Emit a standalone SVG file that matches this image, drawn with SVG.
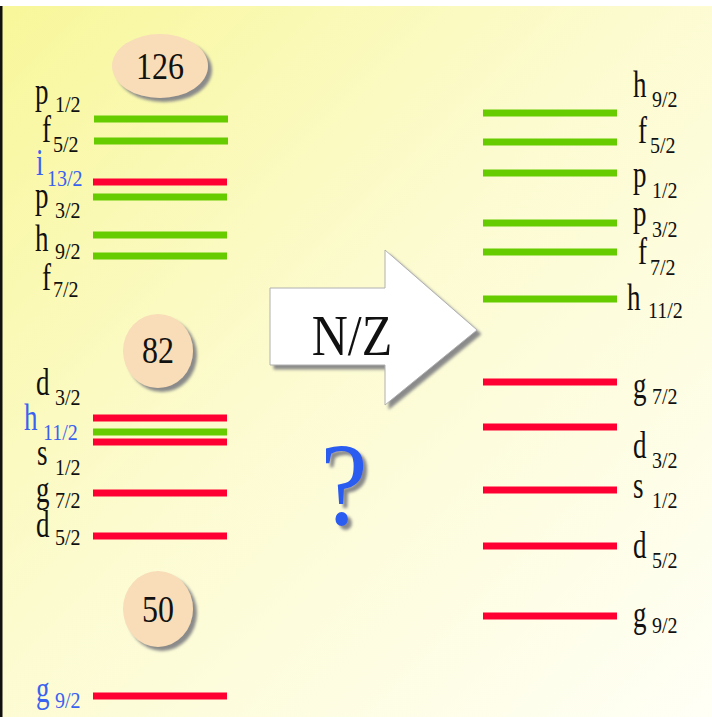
<svg xmlns="http://www.w3.org/2000/svg" width="712" height="717" viewBox="0 0 712 717">
<defs>
<linearGradient id="bg" x1="0" y1="0" x2="1" y2="1">
<stop offset="0" stop-color="#F8F79A"/>
<stop offset="0.45" stop-color="#FCFBCF"/>
<stop offset="1" stop-color="#FFFFF6"/>
</linearGradient>
<filter id="sh" x="-20%" y="-20%" width="150%" height="150%">
<feGaussianBlur in="SourceAlpha" stdDeviation="1.5"/>
<feOffset dx="4" dy="4" result="b"/>
<feFlood flood-color="#8a8a8a"/>
<feComposite in2="b" operator="in"/>
<feMerge><feMergeNode/><feMergeNode in="SourceGraphic"/></feMerge>
</filter>
<style>
text{font-family:'Liberation Serif','DejaVu Serif','Times New Roman',Times,serif}
.g{stroke:#66CC00;stroke-width:7}
.r{stroke:#FF0033;stroke-width:7}
.m{font-size:27px;fill:#111}
.s{font-size:20px;fill:#111}
.b{fill:#3A62F0}
.n{font-size:32px;fill:#111;text-anchor:middle}
.c{fill:#F8DDB8}
</style>
</defs>
<rect x="0" y="0" width="712" height="717" fill="#fff"/>
<rect x="0" y="6" width="712" height="711" fill="url(#bg)"/>
<rect x="0" y="6" width="2.5" height="711" fill="#111"/>

<g id="magic-126">
<ellipse class="c" cx="160" cy="66" rx="48" ry="32" filter="url(#sh)"/>
<text class="n" transform="translate(160,79) scale(1,1.2)">126</text>
</g>
<g id="magic-82">
<ellipse class="c" cx="158" cy="351" rx="35" ry="37" filter="url(#sh)"/>
<text class="n" transform="translate(158,363) scale(1,1.2)">82</text>
</g>
<g id="magic-50">
<ellipse class="c" cx="158" cy="609" rx="35" ry="38" filter="url(#sh)"/>
<text class="n" transform="translate(158,622) scale(1,1.2)">50</text>
</g>

<g id="left-levels">
<line class="g" x1="94" y1="119" x2="228" y2="119"/>
<line class="g" x1="94" y1="141" x2="228" y2="141"/>
<line class="r" x1="93" y1="182" x2="227" y2="182"/>
<line class="g" x1="93" y1="197" x2="227" y2="197"/>
<line class="g" x1="93" y1="235" x2="227" y2="235"/>
<line class="g" x1="93" y1="256" x2="227" y2="256"/>
<line class="r" x1="93" y1="418" x2="227" y2="418"/>
<line class="g" x1="93" y1="432" x2="227" y2="432"/>
<line class="r" x1="93" y1="442" x2="227" y2="442"/>
<line class="r" x1="93" y1="493" x2="227" y2="493"/>
<line class="r" x1="93" y1="536" x2="227" y2="536"/>
<line class="r" x1="93" y1="696" x2="227" y2="696"/>
</g>

<g id="left-labels">
<text class="m" transform="translate(35,104) scale(1,1.38)">p</text><text class="s" transform="translate(55,112) scale(1,1.2)">1/2</text>
<text class="m" transform="translate(42,142) scale(1,1.38)">f</text><text class="s" transform="translate(53,152) scale(1,1.2)">5/2</text>
<text class="m b" transform="translate(36,175) scale(1,1.38)">i</text><text class="s b" transform="translate(47,186) scale(1,1.2)">13/2</text>
<text class="m" transform="translate(35,208) scale(1,1.38)">p</text><text class="s" transform="translate(55,218) scale(1,1.2)">3/2</text>
<text class="m" transform="translate(35,251) scale(1,1.38)">h</text><text class="s" transform="translate(55,259) scale(1,1.2)">9/2</text>
<text class="m" transform="translate(42,290) scale(1,1.38)">f</text><text class="s" transform="translate(53,297) scale(1,1.2)">7/2</text>
<text class="m" transform="translate(36,395) scale(1,1.38)">d</text><text class="s" transform="translate(55,405) scale(1,1.2)">3/2</text>
<text class="m b" transform="translate(24,430) scale(1,1.38)">h</text><text class="s b" transform="translate(43,440) scale(1,1.2)">11/2</text>
<text class="m" transform="translate(37,465) scale(1,1.38)">s</text><text class="s" transform="translate(55,475) scale(1,1.2)">1/2</text>
<text class="m" transform="translate(36,502) scale(1,1.38)">g</text><text class="s" transform="translate(55,508) scale(1,1.2)">7/2</text>
<text class="m" transform="translate(36,537) scale(1,1.38)">d</text><text class="s" transform="translate(55,545) scale(1,1.2)">5/2</text>
<text class="m b" transform="translate(36,702) scale(1,1.38)">g</text><text class="s b" transform="translate(55,708) scale(1,1.2)">9/2</text>
</g>

<g id="arrow-nz">
<path d="M270,288 H385 V250 L477,330 L385,405 V365 H270 Z" fill="#fff" stroke="#b0b0b0" stroke-width="1" filter="url(#sh)"/>
<text transform="translate(352,355) scale(1,1.15)" font-size="50" fill="#111" text-anchor="middle">N/Z</text>
</g>

<g id="question" filter="url(#sh)">
<text transform="translate(344,524) scale(1,1.12)" font-size="106" fill="#2A5CF0" text-anchor="middle">?</text>
</g>

<g id="right-levels">
<line class="g" x1="483" y1="113" x2="617" y2="113"/>
<line class="g" x1="483" y1="142" x2="617" y2="142"/>
<line class="g" x1="483" y1="173" x2="617" y2="173"/>
<line class="g" x1="483" y1="223" x2="617" y2="223"/>
<line class="g" x1="483" y1="252" x2="617" y2="252"/>
<line class="g" x1="483" y1="299" x2="617" y2="299"/>
<line class="r" x1="483" y1="382" x2="617" y2="382"/>
<line class="r" x1="483" y1="427" x2="617" y2="427"/>
<line class="r" x1="483" y1="490" x2="617" y2="490"/>
<line class="r" x1="483" y1="546" x2="617" y2="546"/>
<line class="r" x1="483" y1="616" x2="617" y2="616"/>
</g>

<g id="right-labels">
<text class="m" transform="translate(633,97) scale(1,1.38)">h</text><text class="s" transform="translate(652,107) scale(1,1.2)">9/2</text>
<text class="m" transform="translate(638,143) scale(1,1.38)">f</text><text class="s" transform="translate(650,153) scale(1,1.2)">5/2</text>
<text class="m" transform="translate(633,187) scale(1,1.38)">p</text><text class="s" transform="translate(652,198) scale(1,1.2)">1/2</text>
<text class="m" transform="translate(633,226) scale(1,1.38)">p</text><text class="s" transform="translate(652,237) scale(1,1.2)">3/2</text>
<text class="m" transform="translate(638,264) scale(1,1.38)">f</text><text class="s" transform="translate(650,275) scale(1,1.2)">7/2</text>
<text class="m" transform="translate(627,310) scale(1,1.38)">h</text><text class="s" transform="translate(648,318) scale(1,1.2)">11/2</text>
<text class="m" transform="translate(633,398) scale(1,1.38)">g</text><text class="s" transform="translate(652,404) scale(1,1.2)">7/2</text>
<text class="m" transform="translate(633,458) scale(1,1.38)">d</text><text class="s" transform="translate(652,468) scale(1,1.2)">3/2</text>
<text class="m" transform="translate(633,498) scale(1,1.38)">s</text><text class="s" transform="translate(652,508) scale(1,1.2)">1/2</text>
<text class="m" transform="translate(633,558) scale(1,1.38)">d</text><text class="s" transform="translate(652,568) scale(1,1.2)">5/2</text>
<text class="m" transform="translate(633,627) scale(1,1.38)">g</text><text class="s" transform="translate(652,633) scale(1,1.2)">9/2</text>
</g>
</svg>
